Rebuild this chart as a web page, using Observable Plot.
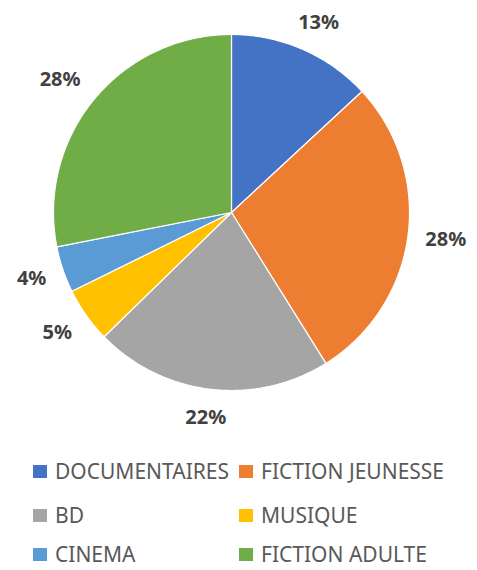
<!DOCTYPE html>
<html>
<head>
<meta charset="utf-8">
<script src="https://cdn.jsdelivr.net/npm/d3@7"></script>
<script src="https://cdn.jsdelivr.net/npm/@observablehq/plot@0.6"></script>
<style>
  html, body { margin: 0; padding: 0; background: #fff; overflow: hidden; }
  #wrap { width: 477px; height: 570px; overflow: hidden; }
  .legend { position: relative; width: 477px; height: 130px; font-family: "Noto Sans", "Open Sans", sans-serif; font-size: 21px; color: #595959; }
  .item { position: absolute; display: flex; align-items: center; height: 20px; white-space: nowrap; }
  .item span.t { line-height: 18px; }
  .sw { width: 14px; height: 13px; margin-right: 8px; flex: none; }
</style>
</head>
<body>
<div id="wrap"></div>
<script>
const categories = ["DOCUMENTAIRES", "FICTION JEUNESSE", "BD", "MUSIQUE", "CINEMA", "FICTION ADULTE"];
const values = [13.1, 28.0, 21.6, 5.0, 4.2, 28.1];
const colors = ["#4472C4", "#ED7D31", "#A5A5A5", "#FFC000", "#5B9BD5", "#70AD47"];

const W = 477, H = 440;
const R = 178;          // pie radius in px
const CX = 231, CY = 212; // pie center in px

const total = d3.sum(values);
const pts = [];
const labels = [];
let acc = 0;
categories.forEach((c, i) => {
  const a0 = acc / total * 2 * Math.PI;
  acc += values[i];
  const a1 = acc / total * 2 * Math.PI;
  pts.push({cat: c, x: 0, y: 0});
  const n = Math.max(2, Math.ceil((a1 - a0) / 0.01));
  for (let k = 0; k <= n; k++) {
    const a = a0 + (a1 - a0) * k / n;
    pts.push({cat: c, x: Math.sin(a), y: Math.cos(a)});
  }
  pts.push({cat: c, x: 0, y: 0});
  const am = (a0 + a1) / 2;
  const ux = Math.sin(am), uy = Math.cos(am);
  const m = Math.max(Math.abs(ux), Math.abs(uy));
  const txt = Math.round(values[i]) + "%";
  const w = (txt.length - 1) * 11.5 + 17, h = 20;
  const D = 196 / R;
  labels.push({
    text: txt,
    x: D * ux + (w / 2) * (ux / m) / R,
    y: D * uy + (h / 2) * (uy / m) / R
  });
});

const chart = Plot.plot({
  width: W,
  height: H,
  margin: 0,
  x: {domain: [-CX / R, (W - CX) / R], range: [0, W], axis: null},
  y: {domain: [-(H - CY) / R, CY / R], range: [H, 0], axis: null},
  color: {domain: categories, range: colors},
  style: {background: "white"},
  marks: [
    Plot.line(pts, {x: "x", y: "y", z: "cat", fill: "cat", stroke: "white", strokeWidth: 1.2, strokeLinejoin: "round", curve: "linear"}),
    Plot.text(labels, {x: "x", y: "y", text: "text", fontSize: 20, fontWeight: "bold", fill: "#404040", fontFamily: "'Noto Sans', 'Open Sans', sans-serif", textAnchor: "middle", lineAnchor: "middle"})
  ]
});

const wrap = document.getElementById("wrap");
wrap.appendChild(chart);

const legend = document.createElement("div");
legend.className = "legend";
const colX = [33, 239];
const rowY = [21, 65, 104];
categories.forEach((c, i) => {
  const it = document.createElement("div");
  it.className = "item";
  it.style.left = colX[i % 2] + "px";
  it.style.top = rowY[Math.floor(i / 2)] + "px";
  const sw = document.createElement("span");
  sw.className = "sw";
  sw.style.background = colors[i];
  const t = document.createElement("span");
  t.className = "t";
  t.textContent = c;
  it.appendChild(sw);
  it.appendChild(t);
  legend.appendChild(it);
});
wrap.appendChild(legend);
</script>
</body>
</html>
